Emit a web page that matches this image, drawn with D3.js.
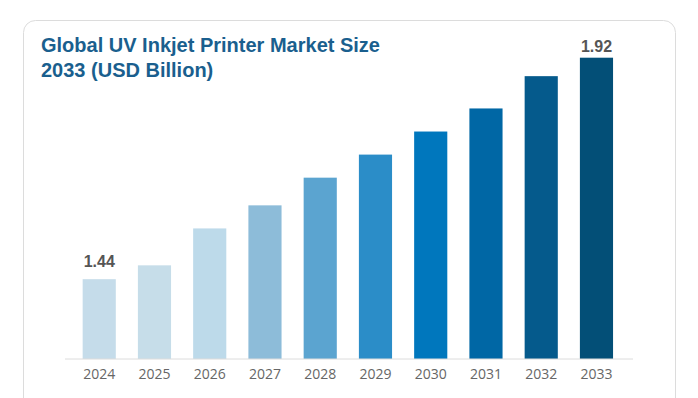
<!DOCTYPE html>
<html>
<head>
<meta charset="utf-8">
<script src="https://cdn.jsdelivr.net/npm/d3@7"></script>
<style>
    body { margin: 0; background: #fff; }
    svg { display: block; }
</style>
</head>
<body>
<div id="chart"></div>
<script>
const years = ['2024', '2025', '2026', '2027', '2028', '2029', '2030', '2031', '2032', '2033'];
const values = [1.44, 1.47, 1.55, 1.60, 1.66, 1.71, 1.76, 1.81, 1.88, 1.92];
const barColors = ['#c5dcea', '#c6dde9', '#bddaea', '#8dbcd9', '#5ba4d0', '#2b8dc8', '#0077bd', '#0067a5', '#055a8c', '#034f77'];
const labelledYears = ['2024', '2033'];
const titleLines = ['Global UV Inkjet Printer Market Size', '2033 (USD Billion)'];

const config = {
    width: 698,
    height: 398,
    baseline: 359,
    top: 57.7
};

const svg = d3.select('#chart')
    .append('svg')
    .attr('width', config.width)
    .attr('height', config.height);

// card
svg.append('rect')
    .attr('x', 23.5)
    .attr('y', 20.5)
    .attr('width', 652)
    .attr('height', 400)
    .attr('rx', 12)
    .attr('fill', '#fff')
    .attr('stroke', '#dcdcdc');

svg.append('text')
    .attr('x', 41)
    .attr('y', 52)
    .attr('fill', '#1a5f8e')
    .attr('font-family', 'Liberation Sans, Arial, sans-serif')
    .attr('font-weight', 'bold')
    .attr('font-size', '20px')
    .selectAll('tspan')
    .data(titleLines)
    .join('tspan')
    .attr('x', 41)
    .attr('dy', (d, i) => i === 0 ? 0 : 25)
    .text(d => d);

const xScale = d3.scaleBand()
    .domain(years)
    .range([71.6, 624.1])
    .paddingInner(0.4)
    .paddingOuter(0.2);

// chart doesn't start at zero
const yScale = d3.scaleLinear()
    .domain([1.267, 1.92])
    .range([config.baseline, config.top]);

svg.append('g')
    .selectAll('rect')
    .data(values)
    .join('rect')
    .attr('x', (d, i) => xScale(years[i]))
    .attr('y', d => yScale(d))
    .attr('width', xScale.bandwidth())
    .attr('height', d => config.baseline - yScale(d))
    .attr('fill', (d, i) => barColors[i]);

const xAxis = svg.append('g')
    .attr('transform', `translate(0,${config.baseline})`)
    .call(d3.axisBottom(xScale).tickSize(0).tickPadding(10));

xAxis.select('.domain').remove();
xAxis.append('line')
    .attr('x1', 65)
    .attr('x2', 633)
    .attr('stroke', '#dcdcdc');

xAxis.selectAll('text')
    .attr('fill', '#666')
    .attr('font-family', 'Open Sans, sans-serif')
    .attr('font-size', '14px');

svg.append('g')
    .selectAll('text')
    .data(values.map((v, i) => ({ year: years[i], value: v })).filter(d => labelledYears.includes(d.year)))
    .join('text')
    .attr('x', d => xScale(d.year) + xScale.bandwidth() / 2)
    .attr('y', d => Math.max(yScale(d.value) - 12, 52))
    .attr('text-anchor', 'middle')
    .attr('fill', '#555')
    .attr('font-family', 'Liberation Sans, Arial, sans-serif')
    .attr('font-weight', 'bold')
    .attr('font-size', '16px')
    .text(d => d.value.toFixed(2));
</script>
</body>
</html>
